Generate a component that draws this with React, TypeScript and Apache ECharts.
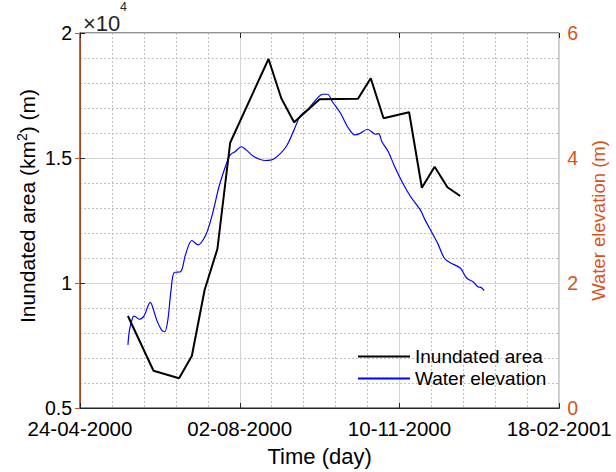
import React, { useEffect, useRef } from "react";
import * as echarts from "echarts";

// Days counted from 24-04-2000
const areaDays = [30, 46, 62, 70, 78, 86, 94, 118, 126, 134, 150, 174, 182, 190, 206, 214, 222, 230, 238];
const areaValues = [8680, 6490, 6190, 7080, 9720, 11360, 15610, 18960, 17390, 16430, 17350, 17370, 18190, 16590, 16830, 13810, 14650, 13830, 13480];

const elevDays = [30, 31, 33, 34, 37, 40, 44, 45, 48, 51, 53, 55, 57, 59, 63, 66, 70, 74, 78, 80, 83, 87, 91, 94, 97, 101, 104, 109, 116, 121, 129, 134, 138, 143, 149, 152, 155, 158, 163, 168, 172, 175, 180, 185, 187, 189, 193, 197, 202, 207, 213, 216, 220, 224, 228, 232, 238, 242, 246, 249, 251, 253];
const elevValues = [1.01, 1.25, 1.45, 1.47, 1.42, 1.47, 1.69, 1.65, 1.41, 1.25, 1.22, 1.41, 1.89, 2.17, 2.18, 2.45, 2.68, 2.61, 2.73, 2.85, 3.11, 3.54, 3.86, 4.05, 4.1, 4.18, 4.13, 4.02, 3.96, 3.98, 4.18, 4.45, 4.68, 4.79, 4.97, 5.02, 5.02, 4.9, 4.72, 4.48, 4.37, 4.39, 4.46, 4.38, 4.39, 4.26, 4.1, 3.86, 3.6, 3.38, 3.17, 3.01, 2.82, 2.63, 2.4, 2.32, 2.24, 2.08, 2.02, 1.94, 1.93, 1.88];

const seriesNames = ["Inundated area", "Water elevation"];
const baseDate = Date.UTC(2000, 3, 24);

function fmtDay(d: number): string {
  const dt = new Date(baseDate + d * 86400000);
  const dd = String(dt.getUTCDate()).padStart(2, "0");
  const mm = String(dt.getUTCMonth() + 1).padStart(2, "0");
  return `${dd}-${mm}-${dt.getUTCFullYear()}`;
}

const FONT = "Liberation Sans, Arial, sans-serif";
const ORANGE = "#D95319";

export default function App() {
  const ref = useRef<HTMLDivElement>(null);
  useEffect(() => {
    if (!ref.current) return;
    const chart = echarts.init(ref.current, null, { renderer: "svg" });
    chart.setOption({
      animation: false,
      textStyle: { fontFamily: FONT },
      grid: { left: 80, right: 53, top: 33, bottom: 64, show: true, borderColor: "#262626", borderWidth: 1 },
      legend: {
        orient: "vertical",
        left: 352,
        top: 342,
        itemWidth: 52,
        itemHeight: 14,
        itemGap: 3,
        itemStyle: { opacity: 0 },
        textStyle: { fontSize: 19, color: "#000", fontFamily: FONT },
        data: seriesNames,
      },
      graphic: [
        {
          type: "text",
          x: 83,
          y: 12,
          style: { text: "×10", fontSize: 22, fontFamily: FONT, fill: "#262626" },
        },
        {
          type: "text",
          x: 120,
          y: 0,
          style: { text: "4", fontSize: 12.5, fontFamily: FONT, fill: "#262626" },
        },
        {
          type: "text",
          x: 27,
          y: 206,
          rotation: Math.PI / 2,
          style: {
            text: "Inundated area (km{sup|2}) (m)",
            fontSize: 21,
            fontFamily: FONT,
            fill: "#000",
            align: "center",
            verticalAlign: "middle",
            rich: { sup: { fontSize: 14, verticalAlign: "top", padding: [0, 0, 11, 0], fontFamily: FONT, fill: "#000" } },
          },
        },
      ],
      xAxis: [
        {
          type: "value",
          min: 0,
          max: 300,
          interval: 100,
          name: "Time (day)",
          nameLocation: "middle",
          nameGap: 37,
          nameTextStyle: { fontSize: 22, color: "#000", fontFamily: FONT },
          axisLine: { show: true, lineStyle: { color: "#262626", width: 1 } },
          axisTick: { show: true, inside: true, length: 5, lineStyle: { color: "#262626" } },
          axisLabel: { formatter: (v: number) => fmtDay(v), fontSize: 20.5, color: "#000", margin: 10, showMinLabel: true, showMaxLabel: true },
          splitLine: { show: true, lineStyle: { color: "#d4d4d4", width: 1 } },
          minorTick: { show: false, splitNumber: 5 },
          minorSplitLine: { show: true, lineStyle: { color: "#c0c0c0", type: [2, 2], width: 1 } },
        },
        {
          type: "value",
          position: "top",
          min: 0,
          max: 300,
          interval: 100,
          axisLine: { show: false },
          axisTick: { show: true, inside: true, length: 5, lineStyle: { color: "#262626" } },
          axisLabel: { show: false },
          splitLine: { show: false },
        },
      ],
      yAxis: [
        {
          type: "value",
          min: 5000,
          max: 20000,
          interval: 5000,
          axisLine: { show: true, lineStyle: { color: "#262626", width: 1 } },
          axisTick: { show: true, inside: true, length: 5, lineStyle: { color: "#262626" } },
          axisLabel: { formatter: (v: number) => String(v / 10000), fontSize: 19.5, color: "#000", margin: 8 },
          splitLine: { show: true, lineStyle: { color: "#d4d4d4", width: 1 } },
          minorSplitLine: { show: true, lineStyle: { color: "#c0c0c0", type: [2, 2], width: 1 } },
          minorTick: { show: false, splitNumber: 5 },
        },
        {
          type: "value",
          min: 0,
          max: 6,
          interval: 2,
          position: "right",
          name: "Water elevation (m)",
          nameLocation: "middle",
          nameGap: 28,
          nameRotate: 90,
          nameTextStyle: { fontSize: 18.5, color: ORANGE, fontFamily: FONT },
          axisLine: { show: true, lineStyle: { color: ORANGE, width: 1.5 } },
          axisTick: { show: true, inside: true, length: 5, lineStyle: { color: ORANGE } },
          axisLabel: { fontSize: 19.5, color: ORANGE, margin: 8 },
          splitLine: { show: false },
        },
      ],
      series: [
        {
          name: seriesNames[0],
          type: "line",
          xAxisIndex: 0,
          yAxisIndex: 0,
          symbol: "none",
          lineStyle: { color: "#000", width: 2 },
          itemStyle: { color: "#000" },
          data: areaDays.map((d, i) => [d, areaValues[i]]),
          z: 3,
        },
        {
          name: seriesNames[1],
          type: "line",
          xAxisIndex: 0,
          yAxisIndex: 1,
          symbol: "none",
          smooth: 0.3,
          lineStyle: { color: "#0000ff", width: 1.2 },
          itemStyle: { color: "#0000ff" },
          data: elevDays.map((d, i) => [d, elevValues[i]]),
          z: 2,
        },
      ],
    });
    return () => chart.dispose();
  }, []);
  return <div ref={ref} style={{ width: 616, height: 472, position: "absolute", left: 0, top: 0, background: "#fff" }} />;
}
